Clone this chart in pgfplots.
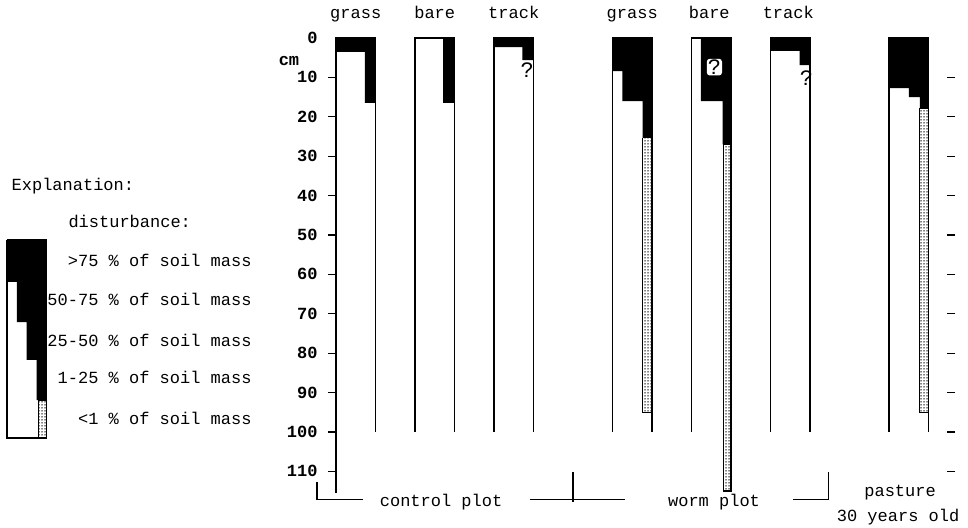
\documentclass[border=0pt]{standalone}
\usepackage{pgfplots}
\pgfplotsset{compat=1.18}
\usepackage{fontspec}
\setmainfont{Liberation Mono}
\usetikzlibrary{patterns}

\newcommand\tx{\fontsize{17bp}{20bp}\selectfont}
\newcommand\qm{\fontsize{22bp}{22bp}\selectfont}

% dots for the "< 1 %" strips
\pgfdeclarepatternformonly{sdots}{\pgfqpoint{-1bp}{-1bp}}{\pgfqpoint{1bp}{1bp}}{\pgfqpoint{3bp}{3bp}}%
{\pgfpathcircle{\pgfqpoint{0bp}{0bp}}{0.75bp}\pgfusepath{fill}}

\begin{document}
\begin{tikzpicture}
% canvas axis: x in column widths, y in cm of depth
\begin{axis}[
  x=39.5bp, y=3.94bp, y dir=reverse,
  xmin=-8.506, xmax=16.0, ymin=-9.64, ymax=124.1,
  hide axis, clip=false,
  every axis plot/.append style={line width=1.3bp},
]
\path (rel axis cs:0,0) rectangle (rel axis cs:1,1);
\coordinate (O) at (axis cs:0,0);

% disturbed soil (black)
\addplot[fill=black, draw=none] coordinates {(0,0) (1,0) (1,16.5) (0.73,16.5) (0.73,3.5) (0,3.5)};
\addplot[fill=black, draw=none] coordinates {(2.72,0) (3,0) (3,16.5) (2.72,16.5)};
\addplot[fill=black, draw=none] coordinates {(4,0) (5,0) (5,5.6) (4.72,5.6) (4.72,2.3) (4,2.3)};
\addplot[fill=black, draw=none] coordinates {(7,0) (8,0) (8,25.3) (7.76,25.3) (7.76,16) (7.25,16) (7.25,8.4) (7,8.4)};
\addplot[fill=black, draw=none] coordinates {(9.24,0) (10,0) (10,27) (9.79,27) (9.79,16) (9.24,16)};
\addplot[fill=black, draw=none] coordinates {(11,0) (12,0) (12,6.9) (11.74,6.9) (11.74,3.3) (11,3.3)};
\addplot[fill=black, draw=none] coordinates {(14,0) (15,0) (15,17.8) (14.78,17.8) (14.78,15) (14.5,15) (14.5,12.7) (14,12.7)};

% < 1 % (dotted)
\addplot[pattern=sdots, draw=black] coordinates {(7.76,25.3) (8,25.3) (8,95) (7.76,95) (7.76,25.3)};
\addplot[pattern=sdots, draw=black] coordinates {(9.81,27) (10,27) (10,115) (9.81,115) (9.81,27)};
\addplot[pattern=sdots, draw=black] coordinates {(14.78,17.8) (15,17.8) (15,95) (14.78,95) (14.78,17.8)};

% column outlines
\addplot[black] coordinates {(0,100) (0,0) (1,0) (1,100)};
\addplot[black] coordinates {(2,100) (2,0) (3,0) (3,100)};
\addplot[black] coordinates {(4,100) (4,0) (5,0) (5,100)};
\addplot[black] coordinates {(7,100) (7,0) (8,0) (8,100)};
\addplot[black] coordinates {(9,100) (9,0) (10,0) (10,100)};
\addplot[black] coordinates {(11,100) (11,0) (12,0) (12,100)};
\addplot[black] coordinates {(14,100) (14,0) (15,0) (15,100)};

% question marks
\node[font=\qm, inner sep=0pt] at (4.84,8.1) {?};
\node[font=\qm, fill=white, rounded corners=3bp, inner sep=1bp] at (9.58,7.4) {?};
\node[font=\qm, inner sep=0pt] at (11.91,10.2) {?};

% right-hand ticks
\addplot[only marks, mark=-, mark size=4bp] coordinates {
(15.57,10) (15.57,20) (15.57,30) (15.57,40) (15.57,50) (15.57,60)
(15.57,70) (15.57,80) (15.57,90) (15.57,100) (15.57,110)};

% legend column
\addplot[fill=black, draw=none] coordinates {(-8.33,51.3) (-7.33,51.3) (-7.33,91.9) (-7.58,91.9) (-7.58,81.7) (-7.83,81.7) (-7.83,72.1) (-8.08,72.1) (-8.08,61.9) (-8.33,61.9)};
\addplot[pattern=sdots, draw=black] coordinates {(-7.53,91.9) (-7.33,91.9) (-7.33,101.5) (-7.53,101.5) (-7.53,91.9)};
\addplot[black] coordinates {(-8.33,51.3) (-7.33,51.3) (-7.33,101.5) (-8.33,101.5) (-8.33,51.3)};

% brackets under the columns
\addplot[black] coordinates {(-0.48,112.7) (-0.48,117.2) (0.68,117.2)};
\addplot[black] coordinates {(4.91,117.2) (7.32,117.2)};
\addplot[black] coordinates {(6.0,110.2) (6.0,117.8)};
\addplot[black] coordinates {(11.57,117.2) (12.46,117.2) (12.46,110.2)};

% texts
\node[font=\tx, anchor=base] at (0.5,-5.0) {grass};
\node[font=\tx, anchor=base] at (2.5,-5.0) {bare};
\node[font=\tx, anchor=base] at (4.5,-5.0) {track};
\node[font=\tx, anchor=base] at (7.5,-5.0) {grass};
\node[font=\tx, anchor=base] at (9.45,-5.0) {bare};
\node[font=\tx, anchor=base] at (11.45,-5.0) {track};
\node[font=\tx\bfseries, anchor=base] at (-1.19,6.9) {cm};
\node[font=\tx, anchor=base] at (2.66,119.0) {control plot};
\node[font=\tx, anchor=base] at (9.57,119.0) {worm plot};
\node[font=\tx, anchor=base] at (14.28,116.5) {pasture};
\node[font=\tx, anchor=base] at (14.23,122.6) {30 years old};

\node[font=\tx, anchor=base west] at (-8.30,38.6) {Explanation:};
\node[font=\tx, anchor=base west] at (-6.86,48.0) {disturbance:};
\node[font=\tx, anchor=base east] at (-2.05,58.1) {>75 \% of soil mass};
\node[font=\tx, anchor=base east] at (-2.05,68.0) {50-75 \% of soil mass};
\node[font=\tx, anchor=base east] at (-2.05,78.2) {25-50 \% of soil mass};
\node[font=\tx, anchor=base east] at (-2.05,87.8) {1-25 \% of soil mass};
\node[font=\tx, anchor=base east] at (-2.05,98.0) {<1 \% of soil mass};
\end{axis}

% depth axis on the left edge of the first column
\begin{axis}[
  at={(O)}, anchor=north west,
  x=39.5bp, y=3.94bp, y dir=reverse,
  xmin=0, xmax=1, ymin=0, ymax=115.4,
  axis y line*=left, axis x line=none,
  ytick={10,20,...,110},
  extra y ticks={0},
  extra y tick style={tick style={draw=none}},
  ytick align=outside, major tick length=8bp,
  every tick/.style={line width=1.3bp, black},
  y axis line style={line width=1.3bp},
  yticklabel style={font=\tx\bfseries},
  yticklabel shift=7bp,
  /pgf/number format/assume math mode=true,
]
\end{axis}
\end{tikzpicture}
\end{document}
